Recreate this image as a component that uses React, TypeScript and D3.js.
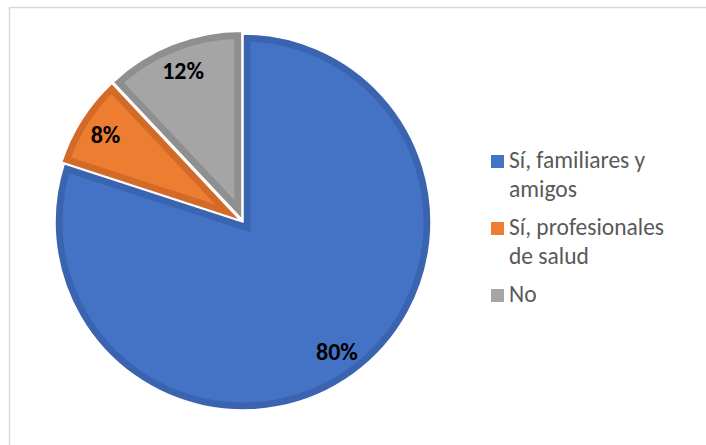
import React from "react";
import * as d3 from "d3";

const categories = ["Sí, familiares y amigos", "Sí, profesionales de salud", "No"];
const values = [80, 8, 12];
const legendLines = [["Sí, familiares y", "amigos"], ["Sí, profesionales", "de salud"], ["No"]];
const fills = ["#4472C4", "#ED7D31", "#A5A5A5"];
const borders = ["#3B64B0", "#D46A27", "#8F8F8F"];
const explode = [0, 3, 3];

const W = 706, H = 445;
const cx = 243, cy = 222, R = 188;

export default function App() {
  const pie = d3.pie<number>().sort(null).value((d) => d);
  const arcs = pie(values);
  const arc = d3.arc<d3.PieArcDatum<number>>().innerRadius(0).outerRadius(R);
  const total = d3.sum(values);
  const fmt = (v: number) => `${Math.round((v / total) * 100)}%`;

  const legendX = 491;
  const lineH = 29;
  const entryStarts = [168, 235, 302];

  return (
    <svg width={W} height={H} style={{ position: "absolute", left: 0, top: 0, background: "#fff" }}
      fontFamily="Carlito, Lato, sans-serif">
      <rect x={0} y={0} width={W} height={H} fill="#fff" />
      <rect x={9.5} y={7.5} width={760} height={500} fill="none" stroke="#D9D9D9" strokeWidth={1.5} />
      <defs>
        {arcs.map((a, i) => (
          <clipPath id={`clip${i}`} key={i}>
            <path d={arc(a) || ""} />
          </clipPath>
        ))}
      </defs>
      {arcs.map((a, i) => {
        const mid = (a.startAngle + a.endAngle) / 2;
        const ox = cx + explode[i] * Math.sin(mid);
        const oy = cy - explode[i] * Math.cos(mid);
        const d = arc(a) || "";
        return (
          <g key={i} transform={`translate(${ox},${oy})`}>
            <path d={d} fill={fills[i]} />
            <path d={d} fill="none" stroke={borders[i]} strokeWidth={15} clipPath={`url(#clip${i})`} />
            <path d={d} fill="none" stroke="#fff" strokeWidth={1.5} strokeLinejoin="round" />
          </g>
        );
      })}
      {arcs.map((a, i) => {
        const mid = (a.startAngle + a.endAngle) / 2;
        const rho = R * 0.85 + explode[i];
        const x = cx + rho * Math.sin(mid);
        const y = cy - rho * Math.cos(mid);
        return (
          <text key={i} x={x} y={y} dy="0.35em" textAnchor="middle" fontWeight="bold"
            fontSize={24} fill="#000">
            {fmt(values[i])}
          </text>
        );
      })}
      {categories.map((c, i) => (
        <g key={c}>
          <rect x={legendX} y={entryStarts[i] - 13} width={13} height={13} fill={fills[i]} />
          {legendLines[i].map((t, j) => (
            <text key={j} x={legendX + 18} y={entryStarts[i] + j * lineH} fontSize={23.5} fill="#595959">
              {t}
            </text>
          ))}
        </g>
      ))}
    </svg>
  );
}
